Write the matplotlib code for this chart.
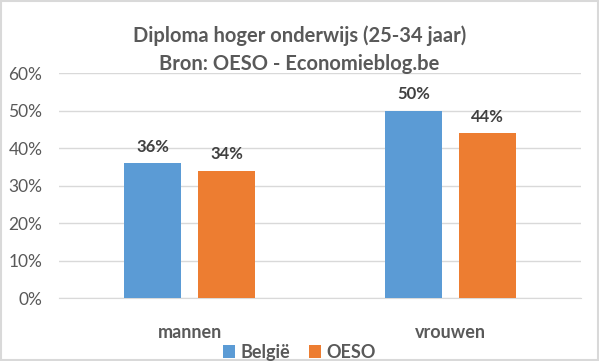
import numpy as np
import matplotlib.pyplot as plt
from matplotlib.patches import Rectangle

categories = ["mannen", "vrouwen"]
series_names = ["België", "OESO"]
belgie = [36, 50]
oeso = [34, 44]
yticks = [0, 10, 20, 30, 40, 50, 60]

plt.rcParams['font.family'] = ['Lato', 'DejaVu Sans']

fig = plt.figure(figsize=(5.99, 3.61), dpi=100)
ax = fig.add_axes([0.0985, 0.1745, 0.8715, 0.623])

x = np.arange(len(categories))
w = 0.218
off = 0.142
colors = ["#5B9BD5", "#ED7D31"]
for vals, dx, col, name in zip([belgie, oeso], [-off, off], colors, series_names):
    bars = ax.bar(x + dx, vals, w, color=col, label=name, zorder=3)
    for b, v in zip(bars, vals):
        ax.annotate(f"{v}%", (b.get_x() + b.get_width() / 2, v), xytext=(0, 6),
                    textcoords="offset points", ha="center", va="bottom",
                    fontsize=12, fontweight="bold", color="#404040")

ax.set_xlim(-0.5, 1.5)
ax.set_ylim(0, 60)
ax.set_yticks(yticks)
ax.set_yticklabels([f"{t}%" for t in yticks])
ax.set_xticks(x)
ax.set_xticklabels(categories, fontweight="bold", fontsize=13)
ax.tick_params(axis="both", length=0, labelsize=12.5, colors="#595959")
ax.tick_params(axis="x", pad=19, labelsize=13)
ax.tick_params(axis="y", pad=12)
ax.grid(axis="y", color="#D9D9D9", linewidth=1, zorder=0)
for s in ["top", "right", "left"]:
    ax.spines[s].set_visible(False)
ax.spines["bottom"].set_color("#D9D9D9")

fig.text(0.5, 0.862, "Diploma hoger onderwijs (25-34 jaar)\nBron: OESO - Economieblog.be",
         ha="center", va="center", fontsize=14.5, fontweight="bold", color="#595959",
         linespacing=1.5)

fig.legend(loc="lower center", bbox_to_anchor=(0.5, -0.045), ncol=2, frameon=False,
           handlelength=0.7, handleheight=0.7, handletextpad=0.3, columnspacing=1.0,
           prop={"size": 13, "weight": "bold"}, labelcolor="#595959")

fig.add_artist(Rectangle((0.002, 0.003), 0.996, 0.994, transform=fig.transFigure,
                         fill=False, edgecolor="#D9D9D9", linewidth=1.5))

fig.savefig("out.png", dpi=100)
